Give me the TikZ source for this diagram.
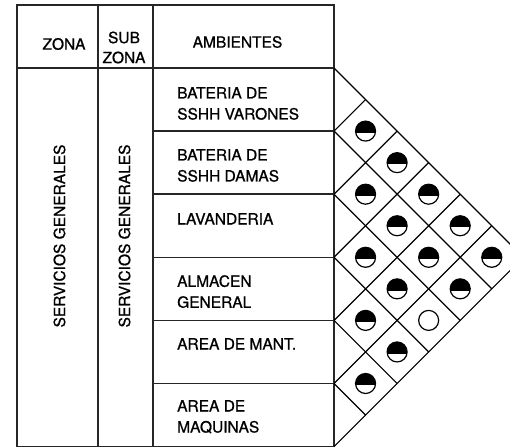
\documentclass[tikz,border=0pt]{standalone}
\usepackage{fontspec}
\setmainfont{TeX Gyre Heros}[FakeBold=0.9]
\begin{document}
\begin{tikzpicture}[x=1pt,y=-1pt,
  tbl/.style={draw=black!85,line width=1.6pt},
  gridline/.style={draw=black,line width=1.2pt},
  txt/.style={font=\fontsize{15.5}{21}\selectfont,inner sep=0pt,align=left},
  hdr/.style={font=\fontsize{15.5}{20}\selectfont,inner sep=0pt,align=center},
  halfdot/.pic={
    \begin{scope}
      \clip (-12,-12) rectangle (12,1.2);
      \fill (0,0) circle (10);
    \end{scope}
    \draw[line width=1.2pt] (0,0) circle (10);
  },
  emptydot/.pic={\draw[line width=1.2pt] (0,0) circle (10);}
]
\useasboundingbox (0,0) rectangle (510,446);
\clip (0,0) rectangle (510,446);

% table frame
\draw[tbl] (17,5) rectangle (334,446.6);
\draw[tbl] (98,5) -- (98,446.6);
\draw[tbl] (153,5) -- (153,446.6);
\draw[tbl] (17,68) -- (334,68);
\foreach \k in {1,...,5} \draw[tbl] (153,{68+63.1*\k}) -- (334,{68+63.1*\k});

% header
\node[hdr] (hzona) at (64,44) {ZONA};
\node[hdr] (hsub) at (124,47.5) {SUB\\ZONA};
\node[hdr] (hamb) at (237.5,42) {AMBIENTES};

% vertical labels
\node[hdr,rotate=90] (vzona) at (59.5,236) {SERVICIOS GENERALES};
\node[hdr,rotate=90] (vsub) at (124.5,236) {SERVICIOS GENERALES};

% ambientes
\node[txt,anchor=north west] (r1) at (177,87) {BATERIA DE\\SSHH VARONES};
\node[txt,anchor=north west] (r2) at (177,149) {BATERIA DE\\SSHH DAMAS};
\node[txt,anchor=north west] (r3) at (177,213) {LAVANDERIA};
\node[txt,anchor=north west] (r4) at (177,275) {ALMACEN\\GENERAL};
\node[txt,anchor=north west] (r5) at (177,338) {AREA DE MANT.};
\node[txt,anchor=north west] (r6) at (177,400) {AREA DE\\MAQUINAS};

% relation matrix grid
\foreach \k in {0,...,6} {
  \coordinate (L\k) at (334,{68+63.1*\k});
  \coordinate (T\k) at ({334+31.55*\k},{68+31.55*\k});
  \coordinate (B\k) at ({334+31.55*(6-\k)},{257.3+31.55*\k});
}
\draw[gridline] (L0) -- (T6);
\draw[gridline] (L6) -- (B0);
\foreach \k in {1,...,5} {
  \draw[gridline] (L\k) -- (T\k);
  \draw[gridline] (L\k) -- (B\k);
}

% relation symbols
\foreach \i/\j in {1/2,1/3,1/4,1/5,1/6,2/3,2/4,2/5,2/6,3/4,3/5,4/5,4/6,5/6}
  \pic at ({334+31.55*(\j-\i)},{68+63.1*((\i+\j)/2-0.5)}) {halfdot};
\pic at ({334+31.55*3},{68+63.1*4}) {emptydot};
\end{tikzpicture}
\end{document}
